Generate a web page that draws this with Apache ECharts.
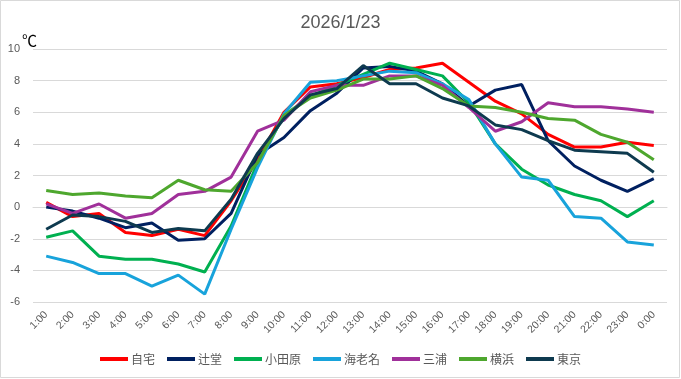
<!DOCTYPE html>
<html>
<head>
<meta charset="utf-8">
<script src="https://cdn.jsdelivr.net/npm/echarts@6/dist/echarts.min.js"></script>
<style>html,body{margin:0;padding:0;background:#fff;}#c{width:681px;height:379px;}</style>
</head>
<body>
<div id="c"></div>
<script>
const categories = ['1:00','2:00','3:00','4:00','5:00','6:00','7:00','8:00','9:00','10:00','11:00','12:00','13:00','14:00','15:00','16:00','17:00','18:00','19:00','20:00','21:00','22:00','23:00','0:00'];
const yTicks = [-6, -4, -2, 0, 2, 4, 6, 8, 10];
const seriesNames = ['自宅','辻堂','小田原','海老名','三浦','横浜','東京'];
const jitaku   = [0.3,-0.6,-0.4,-1.6,-1.8,-1.4,-1.8,0.4,3.0,6.0,7.6,7.8,8.2,8.7,8.8,9.1,7.9,6.7,5.9,4.6,3.8,3.8,4.1,3.9];
const tsujido  = [0.0,-0.25,-0.7,-1.3,-1.0,-2.1,-2.0,-0.4,3.3,4.4,6.1,7.2,8.8,8.9,8.6,7.8,6.4,7.4,7.75,4.2,2.6,1.7,1.0,1.8];
const odawara  = [-1.9,-1.5,-3.1,-3.3,-3.3,-3.6,-4.1,-1.2,2.8,5.8,7.0,7.7,8.4,9.1,8.7,8.3,6.6,4.0,2.4,1.4,0.8,0.4,-0.6,0.4];
const ebina    = [-3.1,-3.5,-4.2,-4.2,-5.0,-4.3,-5.5,-1.4,2.5,5.9,7.9,8.0,8.3,8.6,8.5,7.8,6.8,4.0,1.9,1.7,-0.6,-0.7,-2.2,-2.4];
const miura    = [0.2,-0.4,0.2,-0.7,-0.4,0.8,1.0,1.9,4.8,5.5,7.3,7.7,7.7,8.3,8.3,7.7,6.3,4.8,5.4,6.6,6.35,6.35,6.2,6.0];
const yokohama = [1.05,0.8,0.9,0.7,0.6,1.7,1.1,1.0,2.8,5.8,6.9,7.4,8.1,8.1,8.3,7.5,6.4,6.3,6.0,5.6,5.5,4.6,4.1,3.0];
const tokyo    = [-1.4,-0.5,-0.6,-0.9,-1.6,-1.35,-1.5,0.5,3.4,5.6,7.1,7.5,8.95,7.8,7.8,6.9,6.4,5.2,4.9,4.2,3.6,3.5,3.4,2.2];

const seriesData = [jitaku, tsujido, odawara, ebina, miura, yokohama, tokyo];
const colors = ['#FF0000','#002060','#00B050','#18A3DB','#A0309A','#4EA72E','#0E3A4F'];

const chart = echarts.init(document.getElementById('c'));
chart.setOption({
  animation: false,
  backgroundColor: '#ffffff',
  color: colors,
  title: {
    text: '2026/1/23',
    left: 'center',
    top: 9,
    textStyle: { fontSize: 18, fontWeight: 'normal', color: '#595959', fontFamily: 'Liberation Sans, Arial, sans-serif' }
  },
  graphic: [
    { type: 'rect', shape: { x: 0.5, y: 0.5, width: 679, height: 377 }, style: { fill: 'none', stroke: '#d9d9d9', lineWidth: 1 }, silent: true },
    { type: 'text', left: 22, top: 33, style: { text: '℃', fontSize: 15, fill: '#000000', fontFamily: 'Noto Sans CJK JP' } }
  ],
  legend: {
    data: seriesNames,
    bottom: 9,
    left: 'center',
    icon: 'rect',
    itemWidth: 28,
    itemHeight: 4,
    itemGap: 12,
    textStyle: { fontSize: 12, color: '#595959', fontFamily: 'Noto Sans CJK JP', padding: [0,0,0,-2] }
  },
  grid: { left: 33, right: 14, top: 49, bottom: 77, containLabel: false },
  xAxis: {
    type: 'category',
    data: categories,
    boundaryGap: true,
    axisLine: { show: true, lineStyle: { color: '#d9d9d9' } },
    axisTick: { show: false },
    axisLabel: { rotate: 45, fontSize: 10.5, color: '#595959', margin: 11, interval: 0, fontFamily: 'Liberation Sans, Arial, sans-serif' }
  },
  yAxis: {
    type: 'value',
    min: yTicks[0],
    max: yTicks[yTicks.length - 1],
    interval: 2,
    axisLine: { show: false },
    axisTick: { show: false },
    splitLine: { lineStyle: { color: '#d9d9d9', width: 1 } },
    axisLabel: { fontSize: 11, color: '#595959', margin: 13, fontFamily: 'Liberation Sans, Arial, sans-serif' }
  },
  series: seriesNames.map((n, i) => ({
    name: n,
    type: 'line',
    data: seriesData[i],
    symbol: 'none',
    lineStyle: { width: 3, color: colors[i] },
    itemStyle: { color: colors[i] }
  }))
});
</script>
</body>
</html>
